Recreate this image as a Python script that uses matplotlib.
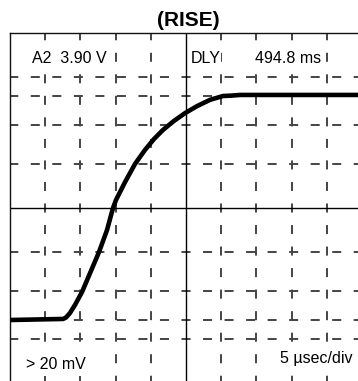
import matplotlib
matplotlib.use("Agg")
import matplotlib.pyplot as plt

plt.rcParams['font.family'] = ['Liberation Sans', 'DejaVu Sans']
plt.rcParams['lines.scale_dashes'] = False

# trace: time in usec (5 usec/div), level in divisions
trace_t = [-25.0, -17.45, -17.05, -16.48, -15.77, -14.77, -12.36, -11.22, -10.37, -9.94,
           -8.66, -7.24, -5.82, -4.55, -3.27, -1.70, -0.14, 1.56, 3.41, 5.26, 6.39, 7.67, 25.0]
trace_v = [-3.2, -3.17, -3.13, -3.0, -2.77, -2.4, -1.26, -0.63, 0.0, 0.23,
           0.74, 1.26, 1.66, 1.97, 2.23, 2.49, 2.71, 2.91, 3.09, 3.2, 3.21, 3.23, 3.23]

# graticule
time_lines = [-20, -15, -10, -5, 5, 10, 15, 20]
level_lines = [-3.74, -3.2, -2.37, -1.26, 1.26, 2.37, 3.2, 3.74]

labels_top = [("A2  3.90 V", -21.9), ("DLY", 0.7), ("494.8 ms", 9.8)]
labels_bottom = [("> 20 mV", -22.75, -4.46), ("5 µsec/div", 13.35, -4.29)]

W, H = 358, 381
fig = plt.figure(figsize=(W / 100, H / 100), dpi=100)
ax = fig.add_axes([10 / W, -2 / H, 352 / W, 350 / H])
ax.set_xlim(-25, 25)
ax.set_ylim(-5, 5)
ax.set_xticks([])
ax.set_yticks([])
for s in ['right', 'bottom']:
    ax.spines[s].set_visible(False)
for s in ['left', 'top']:
    ax.spines[s].set_linewidth(1.0)
    ax.spines[s].set_color('#111111')

# dashes: ~9px on, ~12.5px off, a dash centred on the middle lines
dash = (3.24, (6.5, 9.0))
gcol = '#444444'
for t in time_lines:
    for end in (5, -5):
        ax.plot([t, t], [0, end], color=gcol, lw=1.4, linestyle=dash, zorder=1)
for v in level_lines:
    for end in (25, -25):
        ax.plot([0, end], [v, v], color=gcol, lw=1.4, linestyle=dash, zorder=1)

ax.axhline(0, color='black', lw=1.0, zorder=2)
ax.axvline(0, color='black', lw=1.0, zorder=2)

for txt, x in labels_top:
    ax.text(x, 4.26, txt, fontsize=11.5, ha='left', va='center', zorder=3,
            bbox=dict(facecolor='white', edgecolor='none', pad=0.3))
for txt, x, y in labels_bottom:
    ax.text(x, y, txt, fontsize=11.5, ha='left', va='center', zorder=3,
            bbox=dict(facecolor='white', edgecolor='none', pad=3.0))

ax.plot(trace_t, trace_v, color='black', lw=3.3, solid_capstyle='butt',
        solid_joinstyle='round', zorder=4)

fig.text(188 / W, 1 - 20 / H, "(RISE)", ha='center', va='center',
         fontsize=15, fontweight='bold')

fig.savefig("out.png", dpi=100)
